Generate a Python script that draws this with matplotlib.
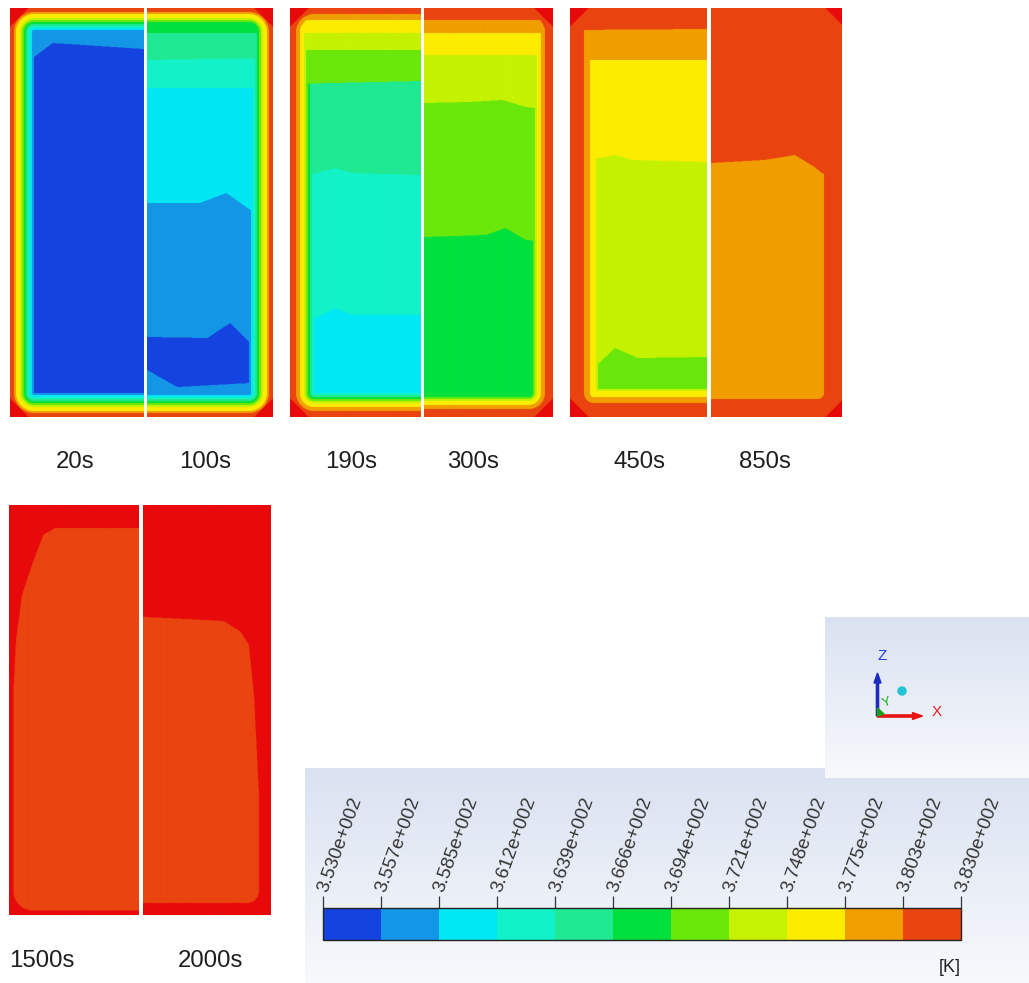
import numpy as np
import matplotlib
matplotlib.use("Agg")
import matplotlib.pyplot as plt
import matplotlib.cm as cm
from matplotlib.colors import ListedColormap, BoundaryNorm, LinearSegmentedColormap
from matplotlib.patches import FancyArrow, Circle, Polygon

plt.rcParams['font.family'] = ['Liberation Sans', 'DejaVu Sans']

W, H = 1029, 983

# ---- temperature legend (K) ------------------------------------------------
LEVEL_TICKS = [353.0, 355.7, 358.5, 361.2, 363.9, 366.6, 369.4, 372.1,
               374.8, 377.5, 380.3, 383.0]
LEVEL_COLORS = ["#1443e0", "#1496e8", "#00e8f4", "#12f2c8", "#1fe992",
                "#00e03c", "#6ae80a", "#c4f200", "#fcec00", "#f09e00",
                "#ea4410"]
OVER_COLOR = "#e80a0a"
OVER = 11          # class index for temperatures above the legend range

# ---- snapshot times ---------------------------------------------------------
TIMES = ["20s", "100s", "190s", "300s", "450s", "850s", "1500s", "2000s"]

# ---- contour classes of each snapshot ---------------------------------------
# RING_*: classes of the wall boundary layer, from the wall inward
# BAND_*: stratified core classes, from top to bottom
RING_20S = [10, 10, 9, 8, 8, 7, 6, 5, 4, 3, 2, 1]
BAND_20S = [1, 0]
RING_100S = [10, 10, 9, 8, 8, 7, 6, 5, 4, 3, 2, 1]
BAND_100S = [5, 4, 3, 2, 1, 0, 1]
RING_190S = [10, 10, 10, 9, 9, 8, 8, 7, 6, 5, 4, 3]
BAND_190S = [10, 9, 8, 7, 6, 4, 3, 2]
RING_300S = [10, 10, 10, 10, 9, 9, 8, 8, 7, 6]
BAND_300S = [10, 9, 8, 7, 6, 5]
RING_450S = [10, 10, 10, 10, 10, 10, 10, 9, 9, 9, 8, 8, 8, 7]
BAND_450S = [10, 9, 8, 7, 6]
RING_850S = [10, 10, 10, 10, 10, 10, 10, 10, 10]
BAND_850S = [10, 9]
RING_1500S = [11, 11]
BAND_1500S = [11, 10]
RING_2000S = [11, 11, 11, 11]
BAND_2000S = [11, 10]

# ---- outlines of the core bands: (x as fraction of the half width, y in px) --
EDGE_20S = [([0, .17, .32, 1], [58, 58, 43, 49])]
EDGE_100S = [([0, 1], [33, 33]),
             ([0, 1], [60, 58]),
             ([0, 1], [88, 88]),
             ([0, .42, .63, .82, 1], [203, 203, 193, 210, 215]),
             ([0, .48, .66, .82, 1], [337, 338, 323, 343, 345]),
             ([0, .24, .82, 1], [370, 387, 383, 383])]
EDGE_190S = [([0, 1], [14, 14]),
             ([0, 1], [20, 20]),
             ([0, 1], [33, 33]),
             ([0, 1], [50, 50]),
             ([0, 1], [84, 81]),
             ([0, .15, .345, .475, 1], [175, 175, 168, 173, 175]),
             ([0, .215, .345, .475, 1], [317, 317, 308, 315, 315])]
EDGE_300S = [([0, 1], [20, 20]),
             ([0, 1], [33, 33]),
             ([0, 1], [55, 55]),
             ([0, .35, .61, .79, 1], [103, 102, 100, 107, 110]),
             ([0, .48, .63, .79, 1], [237, 235, 228, 240, 242])]
EDGE_450S = [([0, 1], [30, 29]),
             ([0, 1], [60, 60]),
             ([0, .146, .328, .453, 1], [162, 160, 155, 160, 162]),
             ([0, .182, .328, .496, 1], [370, 367, 348, 358, 357])]
EDGE_850S = [([0, .41, .64, .79, .847, 1], [163, 160, 155, 167, 173, 180])]
EDGE_1500S = [([0, .031, .054, .10, .185, .263, .355, 1],
               [760, 700, 640, 595, 562, 535, 528, 528])]
EDGE_2000S = [([0, .192, .631, .765, .827, .867, .906, .922, 1],
               [617, 618, 621, 632, 645, 695, 795, 895, 900])]

RES = 0.5      # sampling of the contour fields, px
ROUND = 24     # rounding radius of the boundary-layer corners, px

# (x0, x1, y0, y1), wall side, ring classes, ring step, bands, edges, corner size
HALVES = [
    ((9.5, 143.5, 8, 417), "left", RING_20S, 2.0, BAND_20S, EDGE_20S, 19),
    ((147, 273, 8, 417), "right", RING_100S, 2.0, BAND_100S, EDGE_100S, 19),
    ((290, 420.5, 8, 417), "left", RING_190S, 2.0, BAND_190S, EDGE_190S, 19),
    ((423.5, 552, 8, 417), "right", RING_300S, 2.0, BAND_300S, EDGE_300S, 19),
    ((570, 707, 8, 417), "left", RING_450S, 2.0, BAND_450S, EDGE_450S, 19),
    ((711, 842, 8, 417), "right", RING_850S, 2.0, BAND_850S, EDGE_850S, 17),
    ((9, 138.5, 505, 915), "left", RING_1500S, 2.2, BAND_1500S, EDGE_1500S, 20),
    ((142.5, 270, 505, 915), "right", RING_2000S, 3.0, BAND_2000S, EDGE_2000S, 20),
]
LABEL_XY = [(75, 462), (205, 462), (351, 462), (473, 462),
            (639, 462), (765, 462), (42, 961), (210, 961)]

cmap = ListedColormap(LEVEL_COLORS)
cmap.set_over(OVER_COLOR)
norm = BoundaryNorm(LEVEL_TICKS, cmap.N)
class_temp = np.array([(a + b) / 2 for a, b in zip(LEVEL_TICKS[:-1], LEVEL_TICKS[1:])]
                      + [LEVEL_TICKS[-1] + 1.0])


def contour_field(box, side, rings, step, bands, edges, corner):
    x0, x1, y0, y1 = box
    xs = np.arange(x0, x1, RES) + RES / 2
    ys = np.arange(y0, y1, RES) + RES / 2
    X, Y = np.meshgrid(xs, ys)
    dx = X - x0 if side == "left" else x1 - X
    dt, db = Y - y0, y1 - Y
    dy = np.minimum(dt, db)
    cx = ROUND - dx
    cy = ROUND - dy
    in_corner = (cx > 0) & (cy > 0)
    d_round = np.where(in_corner, ROUND - np.hypot(cx, cy), np.inf)
    d = np.clip(np.minimum(np.minimum(dx, dy), d_round), 0, None)
    k = (d // step).astype(int)
    ring_arr = np.array(rings)
    ring = np.where(k < len(rings), ring_arr[np.minimum(k, len(rings) - 1)], -1)
    fx = (X - x0) / (x1 - x0)
    idx = np.zeros(X.shape, dtype=int)
    for xf, yb in edges:
        idx += (Y > np.interp(fx, xf, yb)).astype(int)
    band = np.array(bands)[idx]
    lev = np.maximum(ring, band)
    lev = np.where((dx + dt < corner) | (dx + db < corner), OVER, lev)
    return class_temp[lev]


fig = plt.figure(figsize=(W / 100, H / 100), dpi=100)
fig.patch.set_facecolor("white")
ax = fig.add_axes([0, 0, 1, 1])
ax.set_axis_off()

for (box, side, rings, step, bands, edges, corner), name, (lx, ly) in zip(HALVES, TIMES, LABEL_XY):
    temp = contour_field(box, side, rings, step, bands, edges, corner)
    x0, x1, y0, y1 = box
    ax.imshow(temp, cmap=cmap, norm=norm, extent=(x0, x1, y1, y0),
              origin="upper", aspect="auto", interpolation="antialiased", zorder=2)
    ax.text(lx, ly, name, ha="center", va="center", fontsize=17.3,
            color="#1e1e1e", zorder=3)

# legend backdrop and view triad backdrop (soft vertical gradients)
grad = np.linspace(0, 1, 256).reshape(-1, 1)
back = LinearSegmentedColormap.from_list("back", ["#dae2f1", "#f7f9fc"])
ax.imshow(grad, cmap=back, extent=(305, W, 983, 768), origin="upper",
          aspect="auto", zorder=1)
ax.imshow(grad, cmap=back, extent=(825, W, 778, 617), origin="upper",
          aspect="auto", zorder=1.5)

# view triad
ax.add_patch(FancyArrow(877.5, 716, 0, -43, width=2.2, head_width=7,
                        head_length=10, length_includes_head=True,
                        color="#1c2cc0", zorder=4))
ax.add_patch(FancyArrow(877.5, 716, 45, 0, width=2.2, head_width=7,
                        head_length=10, length_includes_head=True,
                        color="#e81414", zorder=4))
ax.add_patch(Polygon([[877.5, 716], [877.5, 708], [884, 714]],
                     closed=True, color="#18a018", zorder=4.5))
ax.add_patch(Circle((902, 691), 4, color="#22c4d4", zorder=4))
ax.text(882, 656, "Z", color="#2040e0", fontsize=11, ha="center", va="center", zorder=4)
ax.text(937, 712, "X", color="#e82020", fontsize=11, ha="center", va="center", zorder=4)
ax.text(887, 703, "Y", color="#20b020", fontsize=9.5, ha="center", va="center",
        rotation=20, zorder=4)

ax.text(950, 967, "[K]", fontsize=13, color="#222222", ha="center", va="center", zorder=4)

ax.set_xlim(0, W)
ax.set_ylim(H, 0)

# colour bar
cax = fig.add_axes([323 / W, 1 - 940 / H, 638 / W, 32 / H])
sm = cm.ScalarMappable(norm=norm, cmap=cmap)
cb = fig.colorbar(sm, cax=cax, orientation="horizontal", ticks=LEVEL_TICKS)
cb.outline.set_edgecolor("#222222")
cb.outline.set_linewidth(1.0)
cax.xaxis.set_ticks_position("top")
cax.tick_params(axis="x", direction="out", length=9, width=0.9,
                colors="#333333", pad=3, labelsize=13.5)
cax.set_xticklabels([f"{v / 100:.3f}e+002" for v in LEVEL_TICKS])
for lab in cax.get_xticklabels():
    lab.set_rotation(70)
    lab.set_ha("left")
    lab.set_va("center")
    lab.set_rotation_mode("anchor")

fig.savefig("out.png", dpi=100, facecolor="white")
